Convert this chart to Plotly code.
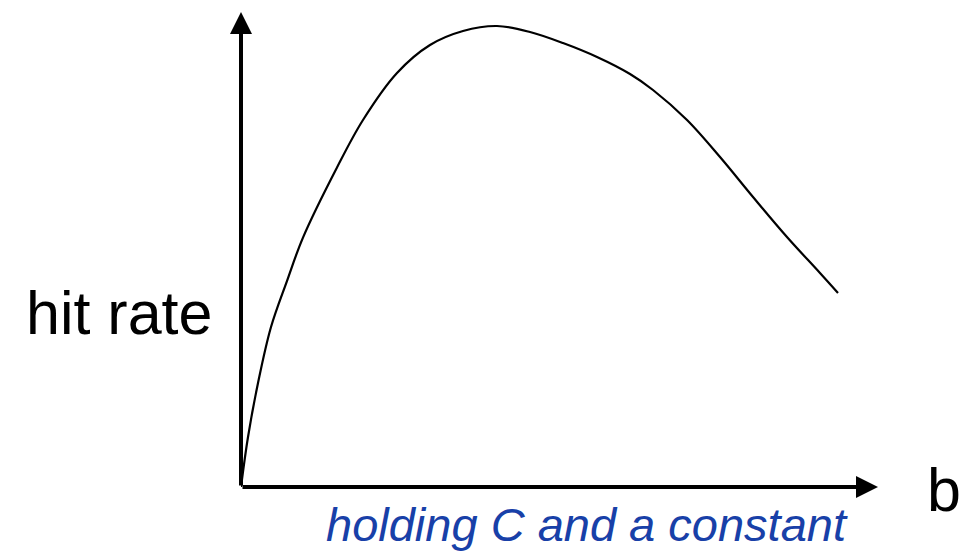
import plotly.graph_objects as go

# curve (b in arbitrary units 0-10, hit rate 0-10)
b_vals = [0.0, 0.110, 0.267, 0.471, 0.72, 0.973, 1.507, 1.915, 2.449, 2.967, 3.485, 4.019,
          4.537, 5.055, 5.589, 6.107, 6.468, 7.002, 7.520, 8.038, 8.571, 9.089, 9.372]
hit_rate = [0.0, 1.053, 2.189, 3.368, 4.33, 5.25, 6.726, 7.726, 8.716, 9.305, 9.6, 9.705,
            9.579, 9.347, 9.053, 8.695, 8.358, 7.726, 6.947, 6.105, 5.263, 4.505, 4.084]

y_label = "hit rate"
x_label = "b"
note = "holding C and a constant"

FONT = "Liberation Sans, Arial, sans-serif"

fig = go.Figure()
fig.add_trace(go.Scatter(x=b_vals, y=hit_rate, mode="lines",
                         line=dict(color="black", width=2.2, shape="spline", smoothing=1.0),
                         hoverinfo="skip", showlegend=False))

# axes drawn as arrows
fig.add_annotation(x=0, y=10, ax=0, ay=0, xref="x", yref="y", axref="x", ayref="y",
                   showarrow=True, arrowhead=2, arrowsize=1.1, arrowwidth=4, arrowcolor="black", text="")
fig.add_annotation(x=10, y=0, ax=0, ay=0, xref="x", yref="y", axref="x", ayref="y",
                   showarrow=True, arrowhead=2, arrowsize=1.1, arrowwidth=4, arrowcolor="black", text="")

fig.add_annotation(text=y_label, x=-0.19, y=0.366, xref="paper", yref="paper",
                   showarrow=False, xanchor="center", yanchor="middle",
                   font=dict(family=FONT, size=61, color="black"))
fig.add_annotation(text=x_label, x=1.104, y=-0.006, xref="paper", yref="paper",
                   showarrow=False, xanchor="center", yanchor="middle",
                   font=dict(family=FONT, size=61, color="black"))
fig.add_annotation(text="<i>" + note + "</i>", x=0.543, y=-0.078, xref="paper", yref="paper",
                   showarrow=False, xanchor="center", yanchor="middle",
                   font=dict(family=FONT, size=47, color="#1840a8"))

fig.update_layout(
    width=974, height=554,
    margin=dict(l=241, r=96, t=12, b=67),
    paper_bgcolor="white", plot_bgcolor="white",
    xaxis=dict(range=[0, 10], visible=False, fixedrange=True),
    yaxis=dict(range=[0, 10], visible=False, fixedrange=True),
)

fig.write_html("out.html", config={"displayModeBar": False},
               post_script="document.body.style.margin='0';")
